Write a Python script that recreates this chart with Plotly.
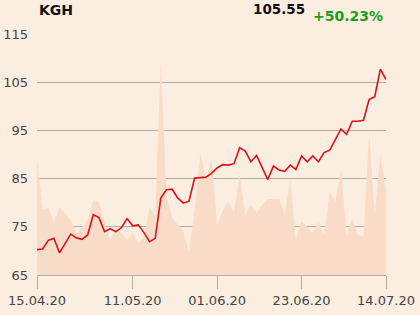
import plotly.graph_objects as go

# ---- data ----
price = [70.26, 70.4, 72.2, 72.6, 69.6, 71.5, 73.5, 72.7, 72.4, 73.3,
         77.5, 76.9, 74.0, 74.6, 74.0, 74.8, 76.7, 75.2, 75.4, 73.8,
         71.9, 72.6, 81.0, 82.7, 82.8, 81.0, 79.9, 80.3, 85.1, 85.2,
         85.3, 86.1, 87.2, 87.9, 87.8, 88.1, 91.4, 90.7, 88.5, 89.8,
         87.3, 84.8, 87.6, 86.8, 86.5, 87.8, 86.9, 89.7, 88.5, 89.7,
         88.5, 90.4, 90.9, 93.1, 95.3, 94.2, 96.9, 96.9, 97.1, 101.4,
         102.0, 107.7, 105.55]

volume_k = [1170, 650, 670, 530, 680, 620, 550, 410, 480, 550,
            750, 730, 530, 350, 470, 420, 350, 420, 320, 380,
            680, 580, 2140, 800, 570, 500, 440, 230, 650, 1220,
            950, 1170, 500, 650, 740, 630, 1000, 600, 700, 620,
            700, 760, 760, 760, 600, 950, 350, 540, 480, 420,
            530, 400, 830, 730, 1050, 400, 560, 400, 380, 1430,
            610, 1200, 850]

tick_idx = [0, 17, 32, 47, 62]
tick_labels = ["15.04.20", "11.05.20", "01.06.20", "23.06.20", "14.07.20"]
y_ticks = [65, 75, 85, 95, 105, 115]

ticker = "KGH"
last_price = "105.55"
change = "+50.23%"

# ---- style ----
BG = "rgb(252,237,225)"
AREA = "rgb(248,220,200)"
GRID = "rgb(180,173,166)"
RED = "rgb(215,20,26)"
GREEN = "rgb(26,158,26)"
FONT = "DejaVu Sans"

x = list(range(len(price)))

fig = go.Figure()
fig.add_trace(go.Scatter(x=x, y=volume_k, mode="lines", fill="tozeroy",
                         fillcolor=AREA, line=dict(width=0, color=AREA),
                         yaxis="y", hoverinfo="skip"))
fig.add_trace(go.Scatter(x=x, y=price, mode="lines",
                         line=dict(color=RED, width=1.6), yaxis="y2"))

fig.update_layout(
    width=420, height=315,
    margin=dict(l=37, r=34, t=34, b=40, pad=0),
    paper_bgcolor=BG, plot_bgcolor=BG,
    showlegend=False,
    font=dict(family=FONT, size=13, color="#444"),
    xaxis=dict(range=[0, len(price) - 1], tickvals=tick_idx, ticktext=tick_labels,
               showgrid=False, zeroline=False, showline=True, linecolor=GRID,
               linewidth=1, ticks="outside", ticklen=13, tickcolor=GRID,
               automargin=False,
               tickfont=dict(size=13, color="#444")),
    yaxis=dict(range=[0, 2410], visible=False, showgrid=False, zeroline=False,
               automargin=False),
    yaxis2=dict(range=[65, 115], overlaying="y", side="left", tickvals=y_ticks,
                showgrid=True, gridcolor=GRID, gridwidth=1, zeroline=False,
                showline=False, ticks="", ticklabelstandoff=8, automargin=False,
                tickfont=dict(size=13, color="#444")),
    annotations=[
        dict(text="<b>%s</b>" % ticker, xref="paper", yref="paper",
             x=0, y=(275 - 10) / 241, xanchor="left", yanchor="middle",
             showarrow=False, font=dict(size=14, color="#111", family=FONT)),
        dict(text="<b>%s</b>" % last_price, xref="paper", yref="paper",
             x=(307 - 37) / 349, y=(275 - 9) / 241, xanchor="right", yanchor="middle",
             showarrow=False, font=dict(size=13.5, color="#111", family=FONT)),
        dict(text="<b>%s</b>" % change, xref="paper", yref="paper",
             x=(385 - 37) / 349, y=(275 - 16) / 241, xanchor="right", yanchor="middle",
             showarrow=False, font=dict(size=14, color=GREEN, family=FONT)),
    ],
)

fig.write_html("out.html")
